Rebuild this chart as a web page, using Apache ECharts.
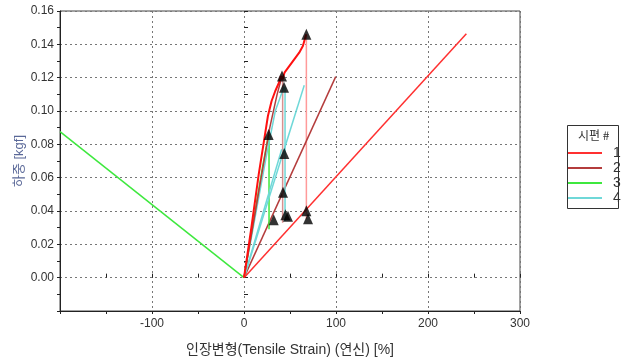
<!DOCTYPE html>
<html>
<head>
<meta charset="utf-8">
<script src="https://cdn.jsdelivr.net/npm/echarts@6/dist/echarts.min.js"></script>
<style>
  html, body { margin: 0; padding: 0; background: #fff; }
  #chart { width: 628px; height: 362px; }
</style>
</head>
<body>
<div id="chart"></div>
<script>
// Tensile strain [%] vs load [kgf] for four specimens
const specimenNames = ['1', '2', '3', '4'];

// specimen 1 (red)
const redCurve = [[0, 0], [8, 0.030], [16, 0.062], [22, 0.083], [26, 0.097], [30, 0.106], [34, 0.112],
  [38, 0.117], [40, 0.121], [42, 0.119], [44, 0.123], [46, 0.122], [48, 0.126], [50, 0.125],
  [52, 0.129], [54, 0.128], [56, 0.132], [58, 0.131], [60, 0.135], [62, 0.134], [64, 0.139],
  [65, 0.141], [66, 0.140], [67, 0.145], [67.8, 0.146]];
const redDrop = [[67.8, 0.146], [67.8, 0.035]];
const redLong = [[0, 0], [241.7, 0.1464]];

// specimen 2 (brown)
const brownCurve = [[0, 0], [14, 0.045], [28, 0.090], [36, 0.110], [41.3, 0.121]];
const brownDrop = [[42.0, 0.121], [42.0, 0.033]];
const brownLong = [[0, 0], [99.7, 0.1206]];

// specimen 3 (green)
const greenLeft = [[-200, 0.0876], [0, 0]];
const greenCurve = [[0, 0], [10, 0.033], [20, 0.066], [26.8, 0.086]];
const greenDrop = [[27.2, 0.086], [27.2, 0.029]];

// specimen 4 (cyan)
const cyanCurve = [[0, 0], [12, 0.036], [24, 0.072], [34, 0.100], [43.5, 0.1146]];
const cyanDrop = [[44.6, 0.1146], [44.6, 0.034]];
const cyanLongA = [[0, 0], [41, 0.077]];
const cyanLongB = [[0, 0], [65.5, 0.1155]];

// peak / break markers
const markPoints = [[26.8, 0.0859], [41.3, 0.121], [43.5, 0.1142], [67.8, 0.146],
  [43.8, 0.0745], [42.4, 0.0512], [32.3, 0.0347], [45.0, 0.0378], [47.8, 0.0369],
  [67.8, 0.0402], [69.6, 0.0353]];

// axis ranges and tick steps
const xRange = [-200, 300], xStep = 100;
const yRange = [-0.02, 0.16], yStep = 0.02;

const numFont = "'Liberation Sans', sans-serif";
const korean = "'Liberation Sans', 'Noto Sans CJK KR', sans-serif";

function seg(name, data, color, width, z) {
  return {
    type: 'line', name: name, data: data, symbol: 'none', z: z || 2,
    lineStyle: { color: color, width: width || 1.5 }, itemStyle: { color: color },
    animation: false, silent: true
  };
}

const colors = { r: '#ff3030', b: '#b43c3c', g: '#3ee83e', c: '#6fd8d8' };
const tickColor = '#222';

const chart = echarts.init(document.getElementById('chart'), null, { renderer: 'canvas' });
chart.setOption({
  animation: false,
  grid: { left: 60, right: 108, top: 11, bottom: 49, show: true, borderColor: '#444', borderWidth: 1 },
  xAxis: [{
    type: 'value', min: xRange[0], max: xRange[1], interval: xStep,
    name: '인장변형(Tensile Strain) (연신) [%]', nameLocation: 'middle', nameGap: 32,
    nameMoveOverlap: false,
    nameTextStyle: { fontFamily: korean, fontSize: 14, color: '#333' },
    axisLine: { show: true, onZero: false, lineStyle: { color: tickColor } },
    axisTick: { show: true, length: 3, lineStyle: { color: tickColor } },
    minorTick: { show: true, splitNumber: 2, length: 3, lineStyle: { color: tickColor } },
    axisLabel: { fontFamily: numFont, fontSize: 12, color: '#333', margin: 7,
      formatter: v => (v === xRange[0] ? '' : String(v)) },
    splitLine: { show: true, lineStyle: { color: '#777', type: [2, 3] } }
  }, {
    type: 'value', min: xRange[0], max: xRange[1], interval: xStep, position: 'bottom',
    axisLine: { show: false }, axisLabel: { show: false }, splitLine: { show: false },
    axisTick: { show: true, inside: true, length: 4, lineStyle: { color: tickColor } },
    minorTick: { show: true, splitNumber: 2, length: 4, lineStyle: { color: tickColor } }
  }],
  yAxis: [{
    type: 'value', min: yRange[0], max: yRange[1], interval: yStep,
    name: '하중 [kgf]', nameLocation: 'middle', nameGap: 34, nameMoveOverlap: false,
    nameTextStyle: { fontFamily: korean, fontSize: 13, color: '#5a6898' },
    axisLine: { show: true, onZero: false, lineStyle: { color: tickColor } },
    axisTick: { show: true, length: 3, lineStyle: { color: tickColor } },
    minorTick: { show: true, splitNumber: 2, length: 3, lineStyle: { color: tickColor } },
    axisLabel: { fontFamily: numFont, fontSize: 12, color: '#333', margin: 6,
      formatter: v => (v < 0 ? '' : v.toFixed(2)) },
    splitLine: { show: true, lineStyle: { color: '#777', type: [2, 3] } }
  }, {
    type: 'value', min: yRange[0], max: yRange[1], interval: yStep, position: 'left',
    axisLine: { show: false }, axisLabel: { show: false }, splitLine: { show: false },
    axisTick: { show: true, inside: true, length: 4, lineStyle: { color: tickColor } },
    minorTick: { show: true, splitNumber: 2, length: 4, lineStyle: { color: tickColor } }
  }],
  legend: {
    orient: 'vertical', left: 568, top: 146, itemWidth: 34, itemHeight: 2, itemGap: 1,
    icon: 'rect', data: specimenNames, selectedMode: false, padding: 0,
    textStyle: { fontFamily: numFont, fontSize: 14, lineHeight: 14, color: '#333', padding: [0, 0, 0, 6] }
  },
  graphic: [
    { type: 'rect', left: 567, top: 125, z: -1, silent: true,
      shape: { width: 51, height: 83 }, style: { fill: '#fff', stroke: '#333', lineWidth: 1 } },
    { type: 'text', left: 578, top: 129, silent: true,
      style: { text: '시편 #', font: "12px 'Noto Sans CJK KR'", fill: '#333' } }
  ],
  series: [
    seg('1', redLong, colors.r, 1.5, 3),
    seg('1', redDrop, '#ff9a9a', 1.5, 2),
    seg('2', brownLong, colors.b, 1.5, 2),
    seg('2', brownDrop, '#d89090', 1.5, 2),
    seg('3', greenLeft, colors.g, 1.5, 2),
    seg('3', greenDrop, colors.g, 1.5, 2),
    seg('4', cyanLongA, colors.c, 1.5, 2),
    seg('4', cyanLongB, colors.c, 1.5, 2),
    seg('4', cyanDrop, colors.c, 1.5, 2),
    seg('4', cyanCurve, colors.c, 1.5, 3),
    seg('3', greenCurve, colors.g, 1.5, 3),
    seg('2', brownCurve, colors.b, 1.5, 3),
    seg('1', redCurve, '#ff1010', 2, 4),
    {
      type: 'scatter', name: 'marks', data: markPoints, symbol: 'triangle', symbolSize: [10, 11],
      itemStyle: { color: '#000' }, z: 6, silent: true, animation: false
    }
  ]
});
</script>
</body>
</html>
